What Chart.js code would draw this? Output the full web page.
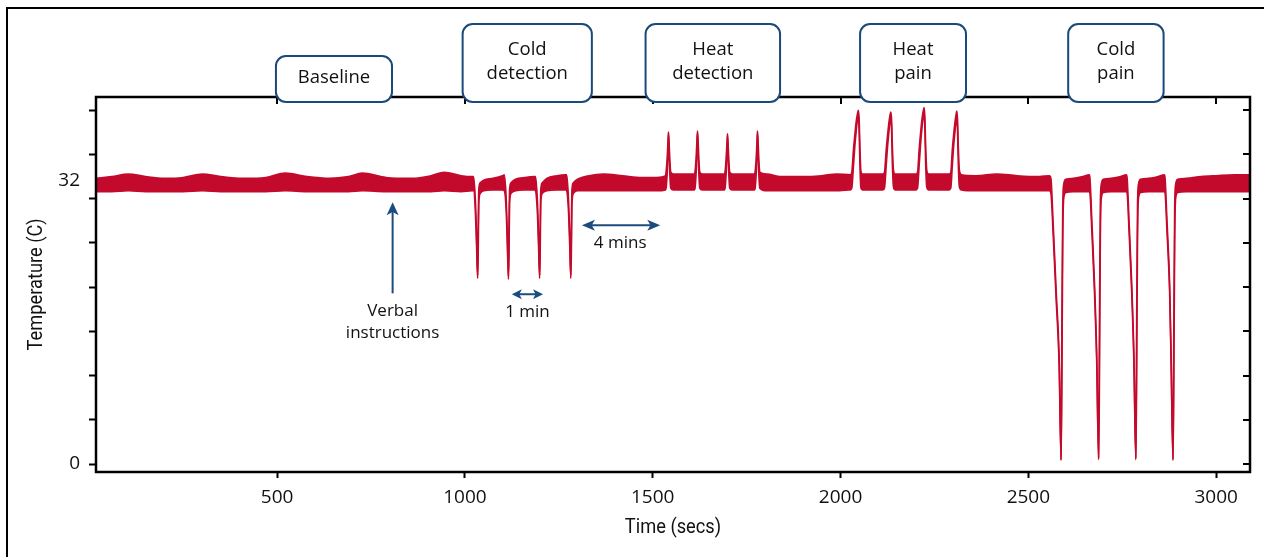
<!DOCTYPE html>
<html><head><meta charset="utf-8">
<script src="https://cdn.jsdelivr.net/npm/chart.js@4.4.0/dist/chart.umd.min.js"></script>
<style>html,body{margin:0;padding:0;background:#fff;}canvas{display:block;}</style>
</head><body>
<canvas id="c" width="1264" height="557"></canvas>
<script>
// ---- data ----
const timeSecs = [
  18,60,104,150,200,250,301,350,410,470,522,580,640,690,727,790,860,910,945,990,1020,
  1023,1028,1031,1034,1035.5,1037,1041,1050,1075,1100,
  1105,1110,1113,1116,1117.5,1119,1123,1135,1160,1185,
  1188,1193,1196,1199,1200.5,1202,1206,1218,1245,1268,
  1271,1276,1279,1282,1283.5,1285,1289,1300,
  1330,1369,1420,1470,1510,1534,
  1536,1539,1541,1542,1543.5,1545.5,1548,1555,1585,1611,
  1613,1616,1618,1619.3,1620.8,1622.8,1625.3,1632,1665,1691,
  1693,1696,1698,1699.1,1700.6,1702.6,1705,1712,1745,1771,
  1773,1776,1778,1778.9,1780.4,1782.4,1785,
  1804,1840,1900,1950,1990,2026,
  2030,2034.5,2038,2041.6,2045,2047.6,2049.5,2051.5,2054,2058,2085,2113,
  2117,2121.5,2125,2128.5,2131.5,2134,2136,2138,2141,2145,2175,2201,
  2205,2209.5,2213,2216.5,2220,2222.5,2224.5,2226.5,2229.6,2234,2265,2289,
  2293.5,2297.5,2301,2304.5,2307.5,2309.5,2311.5,2313.5,2316.4,2322,2360,2416,2470,2530,2556,
  2560,2566,2574,2582,2587,2589,2591.5,2594,2600,2620,2645,2662,
  2664,2669,2676,2682,2687,2689,2691.5,2694,2700,2720,2745,2761,
  2763,2768,2775,2781,2786,2788,2790.5,2793,2799,2820,2845,2862,
  2864,2869,2876,2880,2885,2887,2889.5,2892,2898,2920,2960,3000,3050,3090
];
const upperTemp = [
  32.3,32.5,32.8,32.5,32.3,32.4,32.8,32.5,32.3,32.4,32.9,32.5,32.3,32.5,32.9,32.4,32.3,32.6,33.0,32.6,32.5,
  32.5,29.8,26.0,21.3,27.0,31.0,31.8,32.1,32.3,32.6,
  32.7,30.0,26.0,21.2,27.0,31.0,31.8,32.2,32.4,32.5,
  32.5,29.8,26.0,21.3,27.0,31.0,31.8,32.3,32.6,32.7,
  32.7,29.8,26.0,21.3,27.0,31.0,31.8,32.2,
  32.6,32.8,32.6,32.4,32.4,32.6,
  33.2,35.0,36.8,37.55,36.5,34.5,33.0,32.8,32.8,32.8,
  33.2,35.0,36.9,37.65,36.6,34.5,33.0,32.8,32.8,32.8,
  33.2,35.0,36.6,37.35,36.3,34.4,33.0,32.8,32.8,32.8,
  33.2,35.0,36.9,37.65,36.6,34.5,33.0,
  32.8,32.5,32.5,32.6,32.8,32.7,
  33.0,35.6,37.2,38.7,39.6,40.0,39.0,36.0,33.2,32.8,32.8,32.8,
  33.0,35.5,37.1,38.5,39.4,39.8,38.8,35.9,33.2,32.8,32.8,32.8,
  33.0,35.7,37.4,38.9,39.9,40.3,39.2,36.1,33.2,32.8,32.8,32.8,
  33.0,35.5,37.2,38.6,39.5,39.9,38.9,35.9,33.2,32.7,32.6,32.8,32.6,32.5,32.6,
  32.3,27.2,19.6,12.0,0.7,14.0,29.0,31.6,32.2,32.3,32.5,32.7,
  32.3,27.5,20.5,12.3,0.8,14.0,29.0,31.6,32.2,32.3,32.5,32.7,
  32.3,27.5,20.5,12.3,0.8,14.0,29.0,31.6,32.2,32.3,32.5,32.7,
  32.3,27.5,20.5,12.3,0.7,14.0,29.0,31.6,32.2,32.3,32.5,32.6,32.7,32.7
];
const lowerTemp = [
  30.8,30.8,30.9,30.8,30.8,30.8,30.9,30.8,30.8,30.8,30.9,30.8,30.8,30.8,30.9,30.8,30.8,30.8,30.9,30.8,30.9,
  30.9,28.4,24.8,21.0,24.0,29.5,30.6,30.9,31.0,31.0,
  30.9,28.6,24.8,20.9,24.0,29.5,30.6,30.9,31.0,31.0,
  30.9,28.4,24.8,21.0,24.0,29.5,30.6,30.9,31.0,31.0,
  30.9,28.4,24.8,21.0,24.0,29.5,30.6,30.9,
  30.9,30.9,30.9,30.9,30.9,31.0,
  31.3,33.3,35.8,37.2,35.2,32.8,31.2,31.0,31.0,31.0,
  31.3,33.3,35.9,37.3,35.3,32.8,31.2,31.0,31.0,31.0,
  31.3,33.3,35.6,37.0,35.0,32.7,31.2,31.0,31.0,31.0,
  31.3,33.3,35.9,37.3,35.3,32.8,31.2,
  30.9,30.9,30.9,30.9,30.9,31.0,
  31.2,33.8,35.9,37.6,38.9,39.6,37.8,34.0,31.3,31.0,31.0,31.0,
  31.2,33.7,35.8,37.4,38.7,39.4,37.6,33.9,31.3,31.0,31.0,31.0,
  31.2,33.9,36.1,37.9,39.2,39.9,38.0,34.1,31.3,31.0,31.0,31.0,
  31.2,33.7,35.9,37.5,38.8,39.5,37.7,33.9,31.3,31.0,30.9,30.9,30.9,30.9,30.9,
  30.6,26.0,18.6,11.1,0.4,8.0,25.0,30.0,30.7,30.8,30.8,30.8,
  30.6,26.3,19.5,11.4,0.5,8.0,25.0,30.0,30.7,30.8,30.8,30.8,
  30.6,26.3,19.5,11.4,0.5,8.0,25.0,30.0,30.7,30.8,30.8,30.8,
  30.6,26.3,19.5,11.4,0.4,8.0,25.0,30.0,30.7,30.8,30.8,30.8,30.8,30.8
];
const xTickValues = [500,1000,1500,2000,2500,3000];
const yTickMarks = [0,5,10,15,20,25,30,35,40];
const yLabelValues = [0,32];
const phaseNames = [['Baseline'],['Cold','detection'],['Heat','detection'],['Heat','pain'],['Cold','pain']];
const phaseFrom = [497,994,1481,2052,2606];
const phaseTo = [806,1338,1839,2334,2860];
const verbalText = ['Verbal','instructions'];
const gapTexts = ['1 min','4 mins'];
const axisTitles = {x:'Time (secs)', y:'Temperature (C)'};

// ---- layout / style ----
const RED = '#c40a2c';
const BLUE = '#1b4c7d';
const BOXBLUE = '#1a4a7a';
const tickFont = {family:"'Open Sans', sans-serif", size:19};
const L = {
  boxTall:-73, boxShort:-41, boxBottom:5, boxRadius:10, boxLine:2,
  verbal:{x:807.6, tip:29.6, tail:19.3, t1:17.3, t2:14.8},
  oneMin:{x1:1125, x2:1208, y:19.2, tx:1166.6, ty:17.2, head:10, hw:5},
  fourMin:{x1:1311.6, x2:1520, y:27.0, tx:1413.5, ty:25.0, head:13, hw:5.5},
  titleFont:"21px Roboto, 'Liberation Sans', sans-serif", titleSquash:0.87, yTitleX:37, xTitleY:528
};

function head(ctx, tx, ty, dx, dy, len, hw){
  const bx = tx - dx*len, by = ty - dy*len, nx = -dy, ny = dx, n = len*0.75;
  ctx.beginPath();
  ctx.moveTo(tx,ty);
  ctx.lineTo(bx+nx*hw, by+ny*hw);
  ctx.lineTo(tx-dx*n, ty-dy*n);
  ctx.lineTo(bx-nx*hw, by-ny*hw);
  ctx.closePath(); ctx.fill();
}
function dblArrow(ctx, xs, ys, a){
  const p1 = xs.getPixelForValue(a.x1), p2 = xs.getPixelForValue(a.x2), py = ys.getPixelForValue(a.y);
  ctx.beginPath(); ctx.moveTo(p1+a.head*0.6, py); ctx.lineTo(p2-a.head*0.6, py); ctx.stroke();
  head(ctx, p1, py, -1, 0, a.head, a.hw);
  head(ctx, p2, py, 1, 0, a.head, a.hw);
}

const deco = {
  id:'deco',
  beforeDraw(chart){
    const c = chart.ctx;
    c.save();
    c.fillStyle = '#fff'; c.fillRect(0,0,chart.width,chart.height);
    c.strokeStyle = '#000'; c.lineWidth = 2;
    c.strokeRect(7, 8, chart.width+40, chart.height+40);
    c.restore();
  },
  afterDatasetsDraw(chart){
    const c = chart.ctx, a = chart.chartArea, xs = chart.scales.x, ys = chart.scales.y;
    c.save();
    // plot frame
    c.strokeStyle = '#000'; c.lineWidth = 2.5;
    c.strokeRect(a.left, a.top, a.right-a.left, a.bottom-a.top);
    c.lineWidth = 2;
    xTickValues.forEach(v => { const p = Math.round(xs.getPixelForValue(v)); c.beginPath(); c.moveTo(p, a.top); c.lineTo(p, a.top+7); c.stroke(); });
    yTickMarks.forEach(v => { const p = Math.round(ys.getPixelForValue(v)); c.beginPath(); c.moveTo(a.right-7, p); c.lineTo(a.right, p); c.stroke(); });

    // axis titles (condensed look)
    c.fillStyle = '#111'; c.textAlign = 'center'; c.textBaseline = 'middle';
    c.font = L.titleFont;
    c.save(); c.translate((a.left+a.right)/2, L.xTitleY); c.scale(L.titleSquash,1); c.fillText(axisTitles.x, 0, 0); c.restore();
    c.save(); c.translate(L.yTitleX, (a.top+a.bottom)/2); c.rotate(-Math.PI/2); c.scale(L.titleSquash,1); c.fillText(axisTitles.y, 0, 0); c.restore();

    // annotations
    c.strokeStyle = BLUE; c.fillStyle = BLUE; c.lineWidth = 2;
    const vx = xs.getPixelForValue(L.verbal.x), vt = ys.getPixelForValue(L.verbal.tip), vb = ys.getPixelForValue(L.verbal.tail);
    c.beginPath(); c.moveTo(vx, vb); c.lineTo(vx, vt+8); c.stroke();
    head(c, vx, vt, 0, -1, 13, 6);
    dblArrow(c, xs, ys, L.oneMin);
    dblArrow(c, xs, ys, L.fourMin);

    c.fillStyle = '#111';
    c.font = "17px 'Open Sans', sans-serif";
    c.fillText(verbalText[0], vx, ys.getPixelForValue(L.verbal.t1));
    c.fillText(verbalText[1], vx, ys.getPixelForValue(L.verbal.t2));
    c.fillText(gapTexts[0], xs.getPixelForValue(L.oneMin.tx), ys.getPixelForValue(L.oneMin.ty));
    c.fillText(gapTexts[1], xs.getPixelForValue(L.fourMin.tx), ys.getPixelForValue(L.fourMin.ty));

    // phase boxes
    c.font = "18.5px 'Open Sans', sans-serif";
    phaseNames.forEach((lines, i) => {
      const x1 = xs.getPixelForValue(phaseFrom[i]), x2 = xs.getPixelForValue(phaseTo[i]);
      const top = a.top + (lines.length > 1 ? L.boxTall : L.boxShort), bot = a.top + L.boxBottom;
      c.beginPath(); c.roundRect(x1, top, x2-x1, bot-top, L.boxRadius);
      c.fillStyle = '#fff'; c.fill();
      c.strokeStyle = BOXBLUE; c.lineWidth = L.boxLine; c.stroke();
      c.fillStyle = '#111';
      const cx = (x1+x2)/2, cy = (top+bot)/2 - 1;
      if (lines.length === 1) c.fillText(lines[0], cx, cy);
      else { c.fillText(lines[0], cx, cy-12); c.fillText(lines[1], cx, cy+12); }
    });
    c.restore();
  }
};

new Chart(document.getElementById('c'), {
  type:'line',
  data:{ datasets:[
    { label:'upper', data: timeSecs.map((t,i)=>({x:t, y:upperTemp[i]})), borderColor:RED, borderWidth:1.6, pointRadius:0, fill:false, cubicInterpolationMode:'monotone' },
    { label:'lower', data: timeSecs.map((t,i)=>({x:t, y:lowerTemp[i]})), borderColor:RED, borderWidth:1.6, pointRadius:0, fill:'-1', backgroundColor:RED, cubicInterpolationMode:'monotone' }
  ]},
  options:{
    responsive:false, animation:false,
    layout:{ padding:{left:0, top:97, right:14, bottom:0} },
    plugins:{ legend:{display:false}, tooltip:{enabled:false} },
    scales:{
      x:{ type:'linear', min:18, max:3090,
        afterBuildTicks: s => { s.ticks = xTickValues.map(v=>({value:v})); },
        afterFit: s => { s.height = 85; },
        ticks:{ autoSkip:false, maxRotation:0, padding:8, color:'#111', font:tickFont, callback: v => String(v) },
        grid:{ display:true, drawOnChartArea:false, drawTicks:true, tickLength:6, tickWidth:2, tickColor:'#000' },
        border:{ display:false },
        title:{ display:false }
      },
      y:{ type:'linear', min:-0.9, max:41.5,
        afterBuildTicks: s => { s.ticks = [...yTickMarks, ...yLabelValues.filter(v=>!yTickMarks.includes(v))].sort((p,q)=>p-q).map(v=>({value:v})); },
        afterFit: s => { s.width = 96; },
        ticks:{ autoSkip:false, padding:9, color:'#111', font:tickFont, callback: v => yLabelValues.includes(v) ? String(v) : '' },
        grid:{ display:true, drawOnChartArea:false, drawTicks:true, tickLength:7, tickWidth:2,
          tickColor: ctx => (ctx.tick && yTickMarks.includes(ctx.tick.value)) ? '#000' : 'rgba(0,0,0,0)' },
        border:{ display:false },
        title:{ display:false }
      }
    }
  },
  plugins:[deco]
});
</script>
</body></html>
